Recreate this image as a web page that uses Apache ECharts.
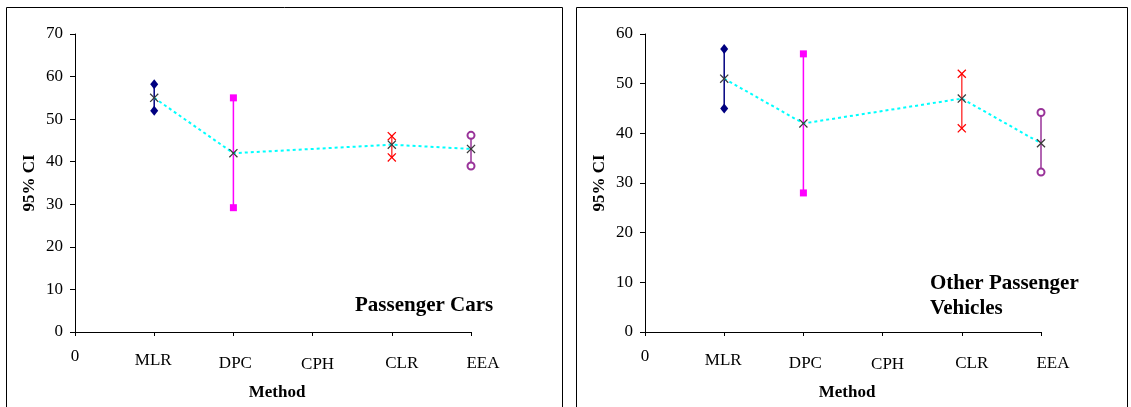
<!DOCTYPE html>
<html>
<head>
<meta charset="utf-8">
<script src="https://cdn.jsdelivr.net/npm/echarts@6/dist/echarts.min.js"></script>
<style>
  html, body { margin: 0; padding: 0; background: #fff; }
  #chart { width: 1131px; height: 407px; }
</style>
</head>
<body>
<div id="chart"></div>
<script>
// Axis categories (the first one is the origin label "0")
const categories = ['0', 'MLR', 'DPC', 'CPH', 'CLR', 'EEA'];
const methods = ['MLR', 'DPC', 'CPH', 'CLR', 'EEA'];

// Passenger cars: 95% confidence interval per method (CPH has no estimate)
const carsMean  = [55, 42, null, 44, 43];
const carsLower = [52, 29.2, null, 41, 39];
const carsUpper = [58.2, 55, null, 46, 46.2];

// Other passenger vehicles
const otherMean  = [51, 42, null, 47, 38];
const otherLower = [45, 28, null, 41, 32.2];
const otherUpper = [57, 56, null, 52, 44.2];

// Y axis ranges
const carsYMax = 70;
const otherYMax = 60;

const FONT = '"Liberation Serif", "Times New Roman", serif';
const X_PATH = 'path://M0,1L1,0L5,4L9,0L10,1L6,5L10,9L9,10L5,6L1,10L0,9L4,5Z';

// Look of each method's interval bar
const methodStyle = {
  MLR: { color: '#000080', lineColor: '#000080', symbol: 'diamond', size: [8, 10] },
  DPC: { color: '#FF00FF', lineColor: '#FF00FF', symbol: 'rect', size: 7 },
  CLR: { color: '#FF0000', lineColor: '#FF4040', symbol: X_PATH, size: 9 },
  EEA: { color: '#993399', lineColor: '#993399', symbol: 'emptyCircle', size: 7 }
};

// Per-label nudges of the category labels: [down, right]
const labelNudge = { c0: [0, 0], MLR: [4, -1], DPC: [7, 2], CPH: [8, 5], CLR: [7, 10], EEA: [7, 12] };
const rich = {};
Object.keys(labelNudge).forEach(k => {
  const [dy, dx] = labelNudge[k];
  rich[k] = {
    fontFamily: FONT, fontSize: 17, color: '#000',
    padding: [dy, dx < 0 ? -2 * dx : 0, 0, dx > 0 ? 2 * dx : 0]
  };
});

function xAxisFor(gridIndex) {
  return {
    type: 'category', gridIndex, data: categories, boundaryGap: false,
    name: 'Method', nameLocation: 'middle', nameGap: 52,
    nameTextStyle: { fontFamily: FONT, fontSize: 17, fontWeight: 'bold', color: '#000', padding: [0, 0, 0, 8] },
    axisLine: { lineStyle: { color: '#000', width: 1 } },
    axisTick: { show: true, inside: false, length: 4, alignWithLabel: true, lineStyle: { color: '#000' } },
    axisLabel: {
      margin: 16, interval: 0,
      formatter: v => '{' + (v === '0' ? 'c0' : v) + '|' + v + '}',
      rich
    },
    splitLine: { show: false }
  };
}

function yAxisFor(gridIndex, max) {
  return {
    type: 'value', gridIndex, min: 0, max, interval: 10,
    name: '95% CI', nameLocation: 'middle', nameGap: 37, nameRotate: 90,
    nameTextStyle: { fontFamily: FONT, fontSize: 17, fontWeight: 'bold', color: '#000' },
    axisLine: { show: true, lineStyle: { color: '#000', width: 1 } },
    axisTick: { show: true, inside: false, length: 5, lineStyle: { color: '#000' } },
    axisLabel: { margin: 12, fontFamily: FONT, fontSize: 17, color: '#000' },
    splitLine: { show: false }
  };
}

function panelSeries(idx, mean, lower, upper) {
  const out = [];
  methods.forEach((m, i) => {
    if (mean[i] === null) return;
    const st = methodStyle[m];
    out.push({
      type: 'line', xAxisIndex: idx, yAxisIndex: idx, z: 3,
      data: [[m, lower[i]], [m, upper[i]]],
      symbol: st.symbol, symbolSize: st.size,
      lineStyle: { color: st.lineColor, width: 1.5 },
      itemStyle: { color: st.color, borderColor: st.color, borderWidth: st.symbol === 'emptyCircle' ? 1.5 : 0 },
      silent: true
    });
  });
  // point estimates joined by a dotted line
  out.push({
    type: 'line', xAxisIndex: idx, yAxisIndex: idx, z: 5,
    data: [null].concat(mean),
    connectNulls: true,
    symbol: X_PATH, symbolSize: 9, showSymbol: true,
    itemStyle: { color: '#3a3a3a' },
    lineStyle: { color: '#00FFFF', width: 2, type: [3, 3] },
    silent: true
  });
  return out;
}

const chart = echarts.init(document.getElementById('chart'), null, { renderer: 'canvas' });
chart.setOption({
  animation: false,
  backgroundColor: '#fff',
  grid: [
    { left: 75, top: 34, width: 396, height: 298 },
    { left: 645, top: 34, width: 396, height: 298 }
  ],
  xAxis: [xAxisFor(0), xAxisFor(1)],
  yAxis: [yAxisFor(0, carsYMax), yAxisFor(1, otherYMax)],
  series: [].concat(
    panelSeries(0, carsMean, carsLower, carsUpper),
    panelSeries(1, otherMean, otherLower, otherUpper)
  ),
  graphic: [
    { type: 'rect', shape: { x: 6.5, y: 7.5, width: 556, height: 430 },
      style: { fill: 'none', stroke: '#000', lineWidth: 1 }, silent: true, z: 0 },
    { type: 'rect', shape: { x: 576.5, y: 7.5, width: 551, height: 430 },
      style: { fill: 'none', stroke: '#000', lineWidth: 1 }, silent: true, z: 0 },
    { type: 'text', left: 355, top: 295, z: 10,
      style: { text: 'Passenger Cars', fontFamily: FONT, fontSize: 21, fontWeight: 'bold', fill: '#000' } },
    { type: 'text', left: 930, top: 271, z: 10,
      style: { text: 'Other Passenger\nVehicles', fontFamily: FONT, fontSize: 21, fontWeight: 'bold', lineHeight: 25, fill: '#000' } }
  ]
});
</script>
</body>
</html>
